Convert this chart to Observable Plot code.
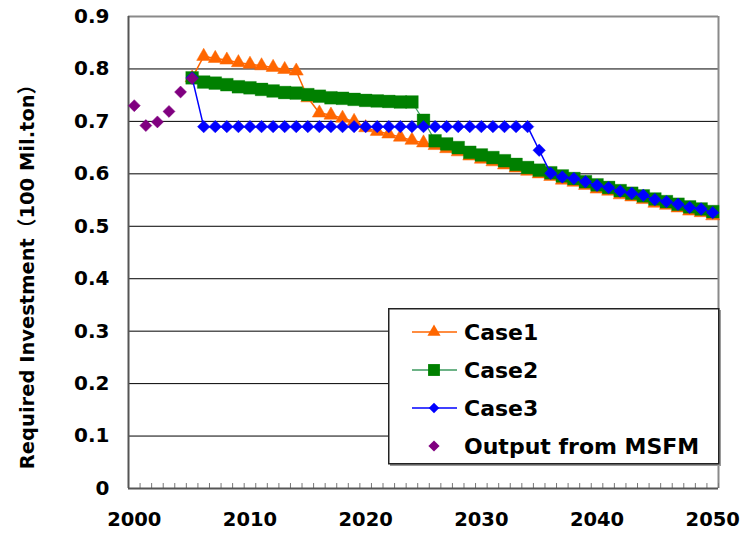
<!DOCTYPE html>
<html>
<head>
<meta charset="utf-8">
<script src="https://cdn.jsdelivr.net/npm/d3@7"></script>
<script src="https://cdn.jsdelivr.net/npm/@observablehq/plot@0.6"></script>
<style>
  html, body { margin: 0; padding: 0; background: #ffffff; }
  #wrap { position: relative; width: 743px; height: 535px; overflow: hidden; }
  #legend { position: absolute; left: 388px; top: 308px; }
</style>
</head>
<body>
<div id="wrap"></div>
<script>
// ---------- data ----------
const msfmYears = [2000, 2001, 2002, 2003, 2004, 2005];
const msfmValues = [0.730, 0.692, 0.699, 0.719, 0.756, 0.782];

const caseYears = [2005, 2006, 2007, 2008, 2009, 2010, 2011, 2012, 2013, 2014,
                   2015, 2016, 2017, 2018, 2019, 2020, 2021, 2022, 2023, 2024,
                   2025, 2026, 2027, 2028, 2029, 2030, 2031, 2032, 2033, 2034,
                   2035, 2036, 2037, 2038, 2039, 2040, 2041, 2042, 2043, 2044,
                   2045, 2046, 2047, 2048, 2049, 2050];

const case1Values = [0.783, 0.824, 0.820, 0.817, 0.812, 0.809, 0.806, 0.803, 0.799, 0.796,
                     0.745, 0.716, 0.712, 0.706, 0.700, 0.688, 0.681, 0.676, 0.670, 0.664,
                     0.659, 0.654, 0.648, 0.642, 0.634, 0.628, 0.623, 0.617, 0.611, 0.605,
                     0.600, 0.595, 0.588, 0.584, 0.578, 0.571, 0.567, 0.560, 0.556, 0.551,
                     0.544, 0.540, 0.535, 0.529, 0.526, 0.520];

const case2Values = [0.783, 0.775, 0.773, 0.770, 0.766, 0.764, 0.761, 0.758, 0.755, 0.754,
                     0.751, 0.748, 0.745, 0.744, 0.742, 0.740, 0.739, 0.738, 0.737, 0.737,
                     0.702, 0.663, 0.657, 0.650, 0.641, 0.636, 0.631, 0.625, 0.618, 0.612,
                     0.607, 0.602, 0.596, 0.591, 0.585, 0.579, 0.574, 0.568, 0.563, 0.558,
                     0.552, 0.547, 0.542, 0.537, 0.533, 0.528];

const case3Values = [0.783, 0.690, 0.690, 0.690, 0.690, 0.690, 0.690, 0.690, 0.690, 0.690,
                     0.690, 0.690, 0.690, 0.690, 0.690, 0.690, 0.690, 0.690, 0.690, 0.690,
                     0.690, 0.690, 0.690, 0.690, 0.690, 0.690, 0.690, 0.690, 0.690, 0.690,
                     0.645, 0.601, 0.594, 0.591, 0.585, 0.578, 0.574, 0.567, 0.563, 0.559,
                     0.551, 0.547, 0.542, 0.536, 0.533, 0.526];

const seriesNames = ["Case1", "Case2", "Case3", "Output from MSFM"];
const yTickValues = [0, 0.1, 0.2, 0.3, 0.4, 0.5, 0.6, 0.7, 0.8, 0.9];
const gridValues = [0.1, 0.2, 0.3, 0.4, 0.5, 0.6, 0.7, 0.8];
const xTickValues = [2000, 2010, 2020, 2030, 2040, 2050];
const yTitle = "Required Investment（100 Mil.ton）";

// ---------- styles ----------
const C1 = "#ff6600", C2 = "#008000", C2line = "#3c9a5f", C3 = "#0000ff", C4 = "#800080";
const FONT = "'DejaVu Sans', 'Noto Sans CJK JP', sans-serif";

const toRows = vals => caseYears.map((year, i) => ({year, value: vals[i]}));
const d1 = toRows(case1Values), d2 = toRows(case2Values), d3r = toRows(case3Values);
const d4 = msfmYears.map((year, i) => ({year, value: msfmValues[i]}));

// category boundaries (Excel-like tick marks between categories)
const boundaries = d3.range(1999.5, 2051, 1);

const chart = Plot.plot({
  width: 743,
  height: 535,
  marginLeft: 128,
  marginRight: 25,
  marginTop: 16,
  marginBottom: 47,
  style: {fontFamily: FONT, background: "#ffffff", overflow: "visible"},
  x: {domain: [1999.5, 2050.5], axis: null},
  y: {domain: [0, 0.9], axis: null},
  marks: [
    Plot.ruleY(gridValues, {stroke: "#000000", strokeWidth: 1}),
    Plot.ruleY([0.9], {stroke: "#8a8a8a", strokeWidth: 2}),
    Plot.ruleX([2050.5], {stroke: "#8a8a8a", strokeWidth: 2}),
    Plot.ruleX(boundaries, {x: d => d, y1: 0, y2: 0.0095, stroke: "#777777", strokeWidth: 1}),
    Plot.ruleY([0], {stroke: "#555555", strokeWidth: 2}),
    Plot.ruleX([1999.5], {stroke: "#555555", strokeWidth: 2}),
    Plot.axisY({ticks: yTickValues, tickSize: 0, tickPadding: 19,
      tickFormat: d => d === 0 ? "0" : d.toFixed(1),
      fontSize: 20, fontWeight: "bold", fill: "#000", label: null}),
    Plot.axisX({ticks: xTickValues, tickSize: 0, tickPadding: 24,
      tickFormat: d => String(d),
      fontSize: 19.5, fontWeight: "bold", fill: "#000", label: null}),
    // Case1
    Plot.line(d1, {x: "year", y: "value", stroke: C1, strokeWidth: 1.5}),
    Plot.dot(d1, {x: "year", y: "value", symbol: "triangle", r: 5.2, fill: C1, stroke: C1, strokeWidth: 0.5}),
    // Case2
    Plot.line(d2, {x: "year", y: "value", stroke: C2line, strokeWidth: 1.2}),
    Plot.dot(d2, {x: "year", y: "value", symbol: "square", r: 7.2, fill: C2, stroke: C2, strokeWidth: 0.3}),
    // Case3
    Plot.line(d3r, {x: "year", y: "value", stroke: C3, strokeWidth: 1.5}),
    Plot.dot(d3r, {x: "year", y: "value", symbol: "diamond2", r: 5.6, fill: C3, stroke: C3, strokeWidth: 0.5}),
    // Output from MSFM
    Plot.dot(d4, {x: "year", y: "value", symbol: "diamond2", r: 5.4, fill: C4, stroke: C4, strokeWidth: 0.5})
  ]
});

// y axis title
d3.select(chart).append("text")
  .attr("transform", "translate(27,272) rotate(-90)")
  .attr("text-anchor", "middle")
  .attr("dominant-baseline", "central")
  .attr("font-family", FONT)
  .attr("font-size", 19.5)
  .attr("font-weight", "bold")
  .attr("fill", "#000")
  .text(yTitle);

const wrap = document.getElementById("wrap");
wrap.appendChild(chart);

// ---------- legend (inside plot area, bottom-right) ----------
const lw = 331, lh = 156;
const leg = d3.select(wrap).append("svg")
  .attr("id", "legend")
  .attr("width", lw + 3).attr("height", lh + 3);
leg.append("rect").attr("x", 2).attr("y", 2).attr("width", lw).attr("height", lh).attr("fill", "#9a9a9a");
leg.append("rect").attr("x", 0.75).attr("y", 0.75).attr("width", lw - 1).attr("height", lh - 1)
  .attr("fill", "#fff").attr("stroke", "#222").attr("stroke-width", 1.5);

const rowY = [24, 62, 100, 138];
const legStyles = [
  {stroke: C1, fill: C1, sym: d3.symbolTriangle, size: 75, line: true},
  {stroke: C2line, fill: C2, sym: d3.symbolSquare, size: 140, line: true},
  {stroke: C3, fill: C3, sym: d3.symbolDiamond2, size: 70, line: true},
  {stroke: null, fill: C4, sym: d3.symbolDiamond2, size: 80, line: false}
];
seriesNames.forEach((name, i) => {
  const s = legStyles[i];
  const g = leg.append("g").attr("transform", `translate(0,${rowY[i]})`);
  if (s.line) {
    g.append("line").attr("x1", 24).attr("x2", 69).attr("y1", 0).attr("y2", 0)
      .attr("stroke", s.stroke).attr("stroke-width", 1.5);
  }
  g.append("path").attr("transform", "translate(46,0)")
    .attr("d", d3.symbol(s.sym, s.size)()).attr("fill", s.fill);
  g.append("text").attr("x", 76).attr("y", 0)
    .attr("dominant-baseline", "central")
    .attr("font-family", FONT).attr("font-size", 22).attr("font-weight", "bold")
    .attr("fill", "#000").text(name);
});
</script>
</body>
</html>
